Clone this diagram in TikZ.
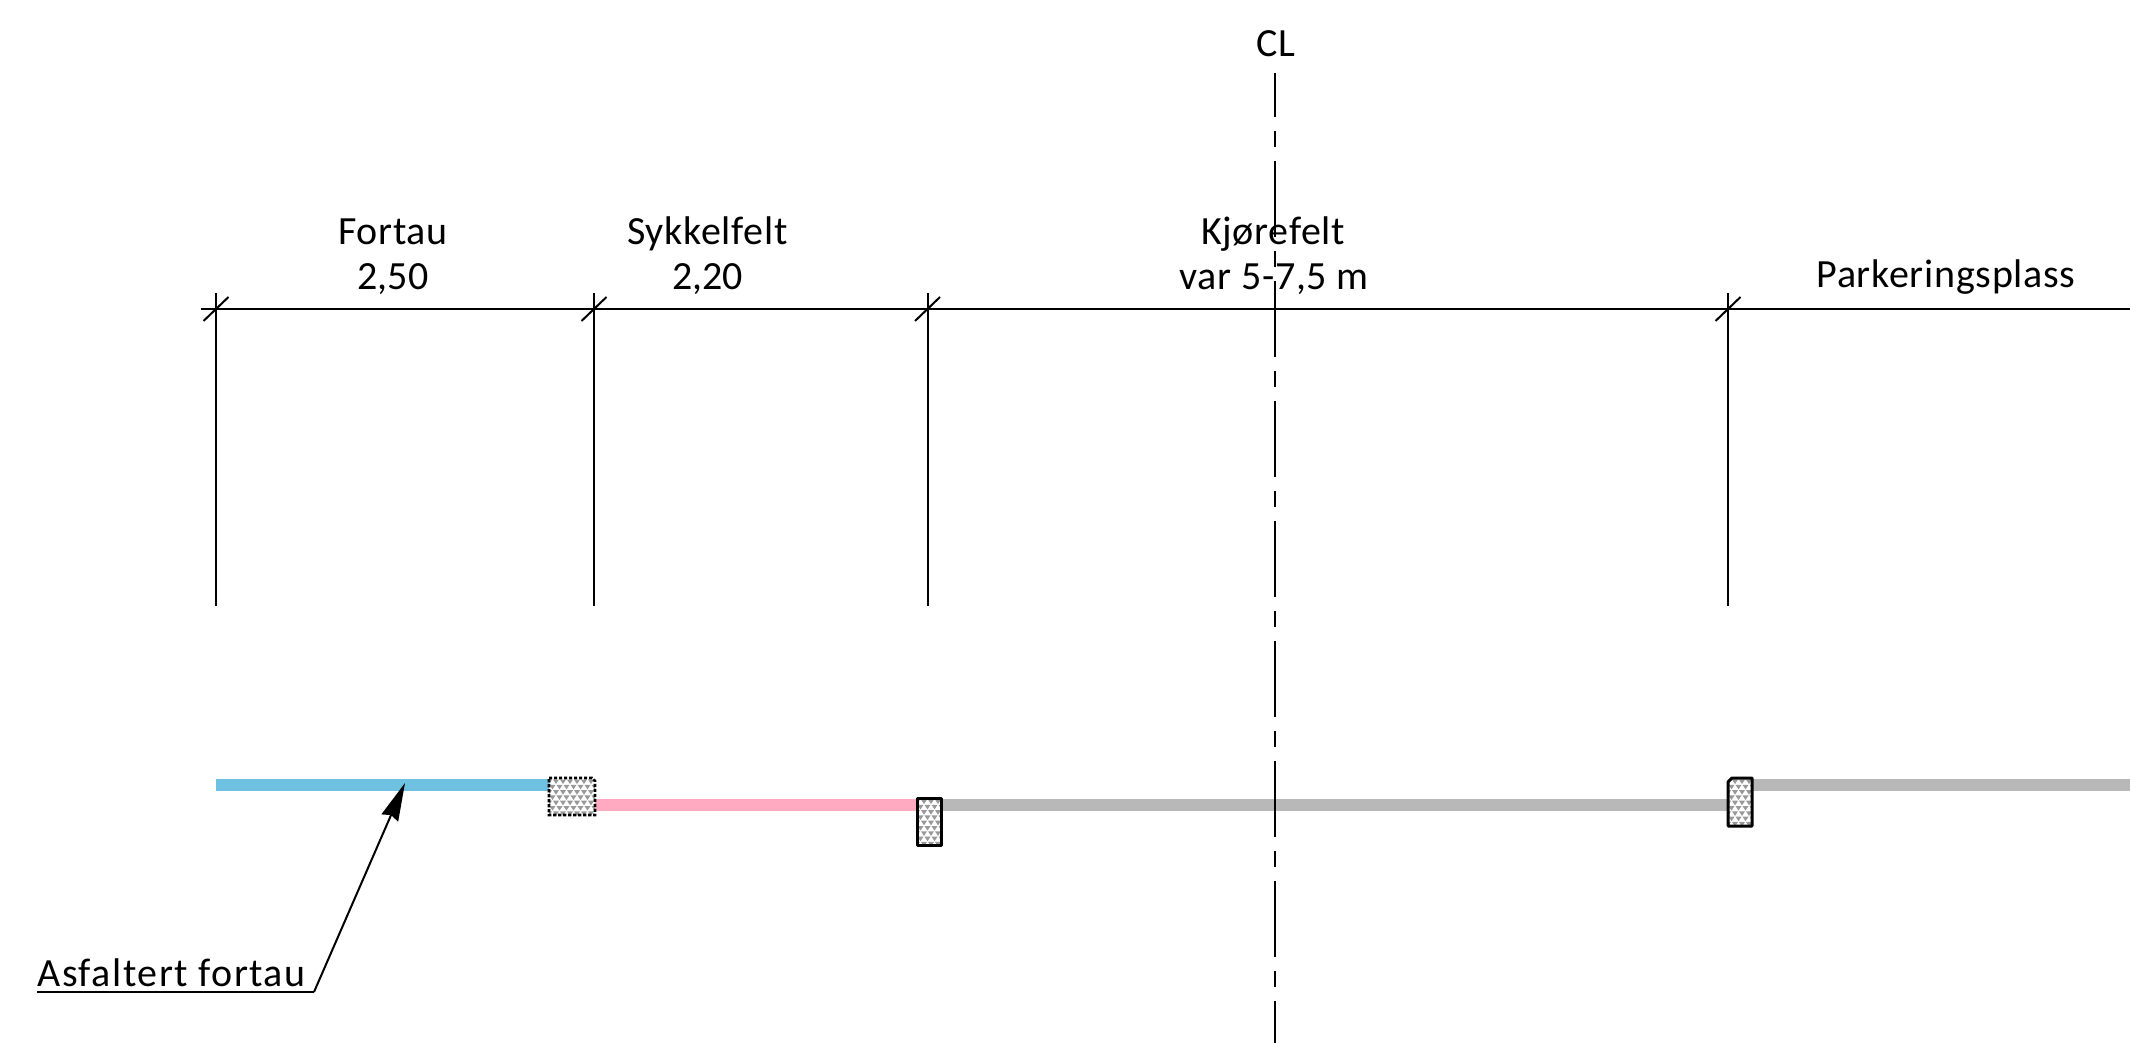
\documentclass[tikz,border=0pt]{standalone}
\usepackage{fontspec}
\setmainfont{Carlito}[LetterSpace=1.8]
\newfontfamily\asffont{Carlito}[LetterSpace=3.8]
\newfontfamily\numfont{Carlito}[LetterSpace=0]
\usetikzlibrary{arrows.meta}
\definecolor{fortaublue}{HTML}{6EC1E0}
\definecolor{sykkelpink}{HTML}{FFAAC0}
\definecolor{veggray}{HTML}{B8B8B8}
\definecolor{trigray}{HTML}{999999}
\tikzset{
  dimline/.style={line width=1pt,black},
  label/.style={anchor=base,inner sep=0pt,font=\fontsize{20}{22}\selectfont},
  bar/.style={line width=6pt},
  curb/.style={line width=1.5pt,black,line join=round},
  curbdash/.style={line width=1.3pt,black,dash pattern=on 1.6pt off 0.9pt},
  centerline/.style={line width=1pt,black,dash pattern=on 38pt off 7pt on 8pt off 7pt,dash phase=16pt},
  leader/.style={line width=1pt,black,-{Stealth[length=19pt,width=9pt,inset=1.5pt]}}
}
\newcommand{\trifill}[4]{%
  \begin{scope}
    \clip (#1,#2) rectangle (#3,#4);
    \foreach \r in {0,...,10}{
      \foreach \c in {0,...,8}{
        \pgfmathsetmacro{\xx}{#1+\c*7+mod(\r,2)*3.5}
        \pgfmathsetmacro{\yy}{#2+1.5+\r*5.3}
        \fill[trigray] (\xx-3,\yy) -- (\xx+3,\yy) -- (\xx,\yy+4.6) -- cycle;
      }
    }
  \end{scope}}
\begin{document}
\begin{tikzpicture}[x=0.5pt,y=-0.5pt]
\useasboundingbox (0,0) rectangle (2130,1043);
% coloured surfaces
\draw[bar,fortaublue] (216,785) -- (552,785);
\draw[bar,sykkelpink] (594,804.5) -- (918,804.5);
\draw[bar,veggray] (938,804.5) -- (1730,804.5);
\draw[bar,veggray] (1750,785) -- (2130,785);
% curbs
\fill[white] (549,778) rectangle (595,815);
\trifill{549}{778}{595}{815}
\draw[curbdash] (549,778) -- (592,778) -- (595,781) -- (595,815) -- (549,815) -- cycle;
\fill[white] (917,798) rectangle (941,845);
\trifill{917}{798}{941}{845}
\draw[curb] (917,798) rectangle (941,845);
\fill[white] (1728,778) rectangle (1752,826);
\trifill{1728}{778}{1752}{826}
\draw[curb] (1732,778) -- (1752,778) -- (1752,826) -- (1728,826) -- (1728,782) -- cycle;
% dimension line
\coordinate (dimL) at (201,309);
\coordinate (dimR) at (2130,309);
\draw[dimline] (dimL) -- (dimR);
\foreach \n/\x in {a/216,b/594,c/927.5,d/1728}{
  \coordinate (\n top) at (\x,293);
  \coordinate (\n bot) at (\x,605.5);
  \coordinate (\n s1) at (\x-12.5,321);
  \coordinate (\n s2) at (\x+12.5,297);
  \draw[dimline] (\n top) -- (\n bot);
  \draw[dimline] (\n s1) -- (\n s2);
}
% centre line
\coordinate (clT) at (1275,73);
\coordinate (clB) at (1275,1043);
\draw[centerline] (clT) -- (clB);
% labels
\node[label] (cl) at (1276,57) {CL};
\node[label] (fortau) at (393,245) {Fortau};
\node[label] (w1) at (393,289) {\numfont 2,50};
\node[label] (sykkel) at (707.5,245) {Sykkelfelt};
\node[label] (w2) at (707.5,289) {\numfont 2,20};
\node[label] (kjore) at (1273,245) {Kjørefelt};
\node[label] (var) at (1274,289) {var 5-7,5 m};
\node[label] (park) at (1946,287) {Parkeringsplass};
\node[label,anchor=base west] (asf) at (37,986) {\asffont Asfaltert fortau};
% leader
\coordinate (ulL) at (37,992);
\coordinate (ulR) at (314,992);
\coordinate (tip) at (405,783);
\draw[dimline] (ulL) -- (ulR);
\draw[leader] (ulR) -- (tip);
\end{tikzpicture}
\end{document}
